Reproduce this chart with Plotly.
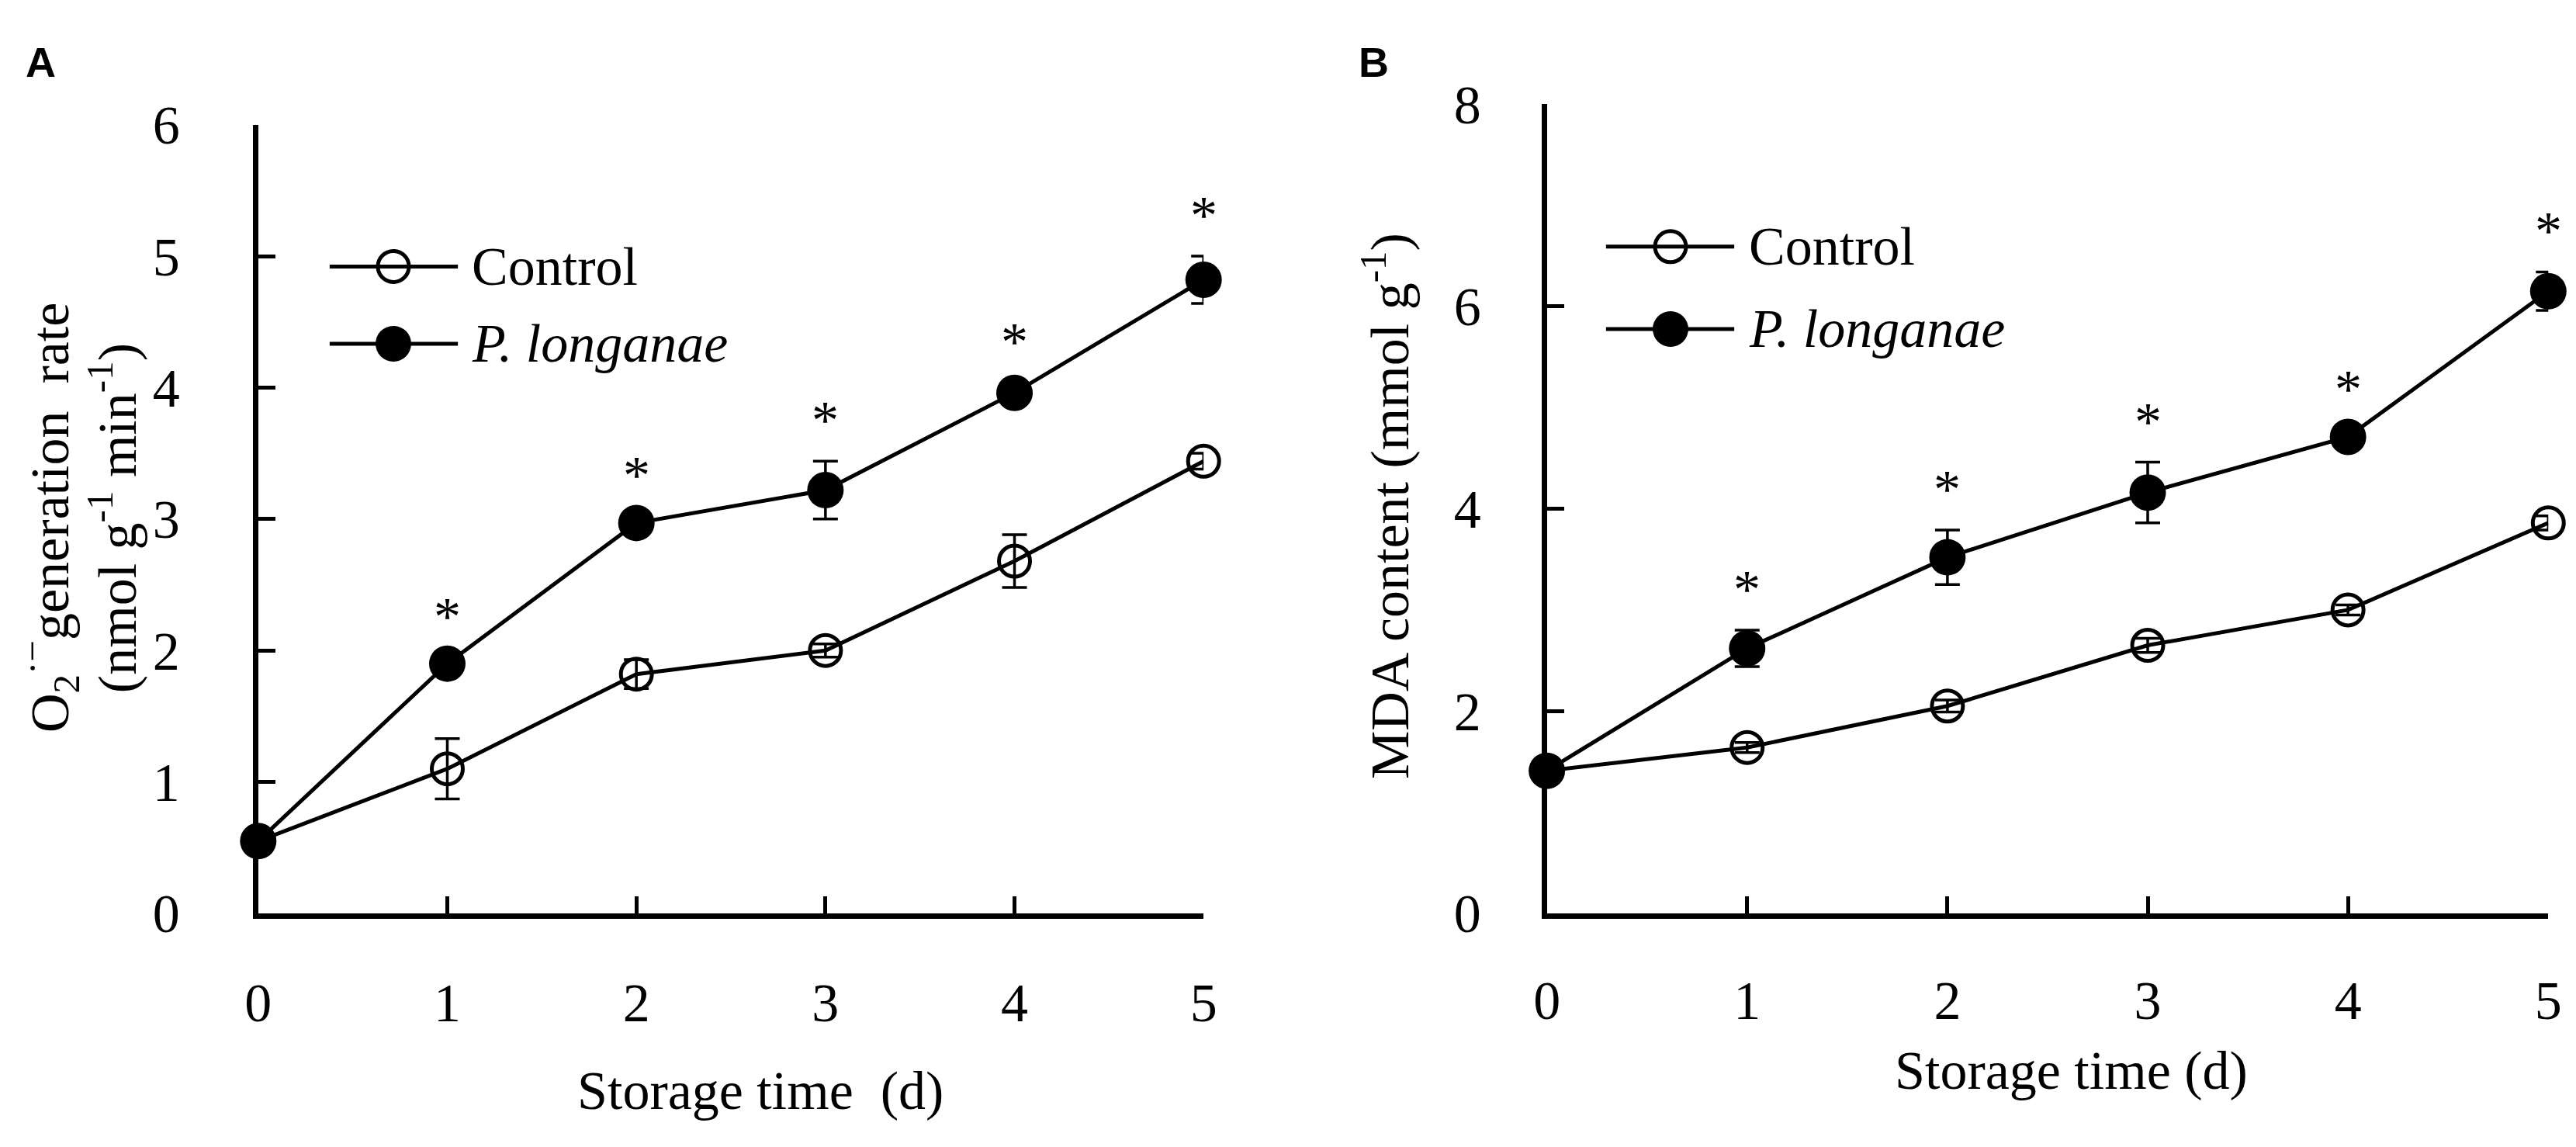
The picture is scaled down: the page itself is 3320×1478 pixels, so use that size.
import plotly.graph_objects as go

W, H = 3320, 1478

# ---- data ----
days = [0, 1, 2, 3, 4, 5]
day_labels = ["0", "1", "2", "3", "4", "5"]

# panel A: O2- generation rate (nmol g-1 min-1)
o2_control = [0.55, 1.10, 1.82, 2.00, 2.68, 3.44]
o2_control_err = [0.04, 0.23, 0.11, 0.05, 0.20, 0.06]
o2_plong = [0.55, 1.90, 2.97, 3.22, 3.96, 4.82]
o2_plong_err = [0.04, 0.05, 0.05, 0.22, 0.08, 0.18]

# panel B: MDA content (mmol g-1)
mda_control = [1.41, 1.64, 2.05, 2.65, 3.00, 3.86]
mda_control_err = [0.05, 0.05, 0.06, 0.07, 0.05, 0.07]
mda_plong = [1.41, 2.62, 3.52, 4.16, 4.71, 6.15]
mda_plong_err = [0.05, 0.18, 0.27, 0.30, 0.07, 0.19]

# days with a significant difference (asterisk)
sig_days = [1, 2, 3, 4, 5]

FONT = "Liberation Serif, Times New Roman, serif"
FS = 70


def px(x):
    return x / W


def py(y):
    return 1 - y / H


fig = go.Figure()


def add_series(xa, ya, y, err, filled, name):
    fig.add_trace(go.Scatter(
        x=days, y=y, name=name, xaxis=xa, yaxis=ya,
        mode="lines+markers", cliponaxis=False, showlegend=False,
        line=dict(color="black", width=5),
        marker=dict(symbol="circle" if filled else "circle-open",
                    size=47 if filled else 40, color="black",
                    line=dict(color="black", width=0 if filled else 5)),
        error_y=dict(type="data", array=err, visible=True, color="black",
                     thickness=3.5, width=16),
    ))


add_series("x", "y", o2_control, o2_control_err, False, "Control")
add_series("x", "y", o2_plong, o2_plong_err, True, "P. longanae")
add_series("x2", "y2", mda_control, mda_control_err, False, "Control")
add_series("x2", "y2", mda_plong, mda_plong_err, True, "P. longanae")

annotations = []
# asterisks above treated points
for xr, yr, vals, errs in [("x", "y", o2_plong, o2_plong_err),
                           ("x2", "y2", mda_plong, mda_plong_err)]:
    for d in sig_days:
        annotations.append(dict(x=d, y=vals[d] + errs[d], xref=xr, yref=yr,
                                text="*", showarrow=False, xanchor="center",
                                yanchor="bottom", yshift=12,
                                font=dict(family=FONT, size=FS)))

axis_common = dict(range=[0, 5], tickvals=days, ticktext=day_labels,
                   ticks="inside", ticklen=22, tickwidth=5, tickcolor="black",
                   showline=True, linewidth=7, linecolor="black",
                   showgrid=False, zeroline=False,
                   tickfont=dict(family=FONT, size=FS, color="black"))

fig.update_layout(
    width=W, height=H,
    margin=dict(l=0, r=0, t=0, b=0),
    paper_bgcolor="white", plot_bgcolor="white",
    font=dict(family=FONT, size=FS, color="black"),
    xaxis=dict(axis_common, domain=[px(311), px(1542)], anchor="y",
               ticklabelstandoff=48),
    yaxis=dict(axis_common, range=[0, 6], tickvals=[0, 1, 2, 3, 4, 5, 6],
               ticktext=["0", "1", "2", "3", "4", "5", "6"],
               domain=[py(1194), py(121)], anchor="x", ticklabelstandoff=80),
    xaxis2=dict(axis_common, domain=[px(1989), px(3293)], anchor="y2",
                ticklabelstandoff=45),
    yaxis2=dict(axis_common, range=[0, 8], tickvals=[0, 2, 4, 6, 8],
                ticktext=["0", "2", "4", "6", "8"],
                domain=[py(1194), py(93)], anchor="x2", ticklabelstandoff=64),
)


def label(x, y, text, angle=0, **kw):
    d = dict(x=px(x), y=py(y), xref="paper", yref="paper", text=text,
             showarrow=False, textangle=angle, xanchor="center",
             yanchor="middle", font=dict(family=FONT, size=FS, color="black"))
    d.update(kw)
    return d


# axis titles
annotations += [
    label(965, 1435, "Storage time  (d)"),
    label(2672, 1408, "Storage time (d)"),
    label(39, 656, "O<sub>2</sub><sup>·−</sup>generation  rate", -90),
    label(122, 656, "(nmol g<sup>-1</sup> min<sup>-1</sup>)", -90),
    label(1779, 640, "MDA content (mmol g<sup>-1</sup>)", -90),
    # panel letters
    label(6, 2, "<b>A</b>", xanchor="left", yanchor="top",
          font=dict(family="Liberation Sans, Arial", size=54, color="black")),
    label(1742, 2, "<b>B</b>", xanchor="left", yanchor="top",
          font=dict(family="Liberation Sans, Arial", size=54, color="black")),
]

# hand-drawn legends (long line samples as in the original)
shapes = []
legend_rows = [("Control", False), ("<i>P. longanae</i>", True)]
for lx0, lx1, mx, tx, rows_y in [(404, 571, 487, 587, [314, 419]),
                                 (2066, 2233, 2150, 2250, [287, 399])]:
    for (text, filled), ry in zip(legend_rows, rows_y):
        shapes.append(dict(type="line", xref="paper", yref="paper",
                           x0=px(lx0), x1=px(lx1), y0=py(ry), y1=py(ry),
                           line=dict(color="black", width=5)))
        r = 23 if filled else 20
        shapes.append(dict(type="circle", xref="paper", yref="paper",
                           xsizemode="pixel", ysizemode="pixel",
                           xanchor=px(mx), yanchor=py(ry),
                           x0=-r, x1=r, y0=-r, y1=r,
                           fillcolor="black" if filled else "rgba(0,0,0,0)",
                           line=dict(color="black", width=0 if filled else 5)))
        annotations.append(label(tx, ry, text, xanchor="left"))

fig.update_layout(annotations=annotations, shapes=shapes)

fig.write_html("out.html")
